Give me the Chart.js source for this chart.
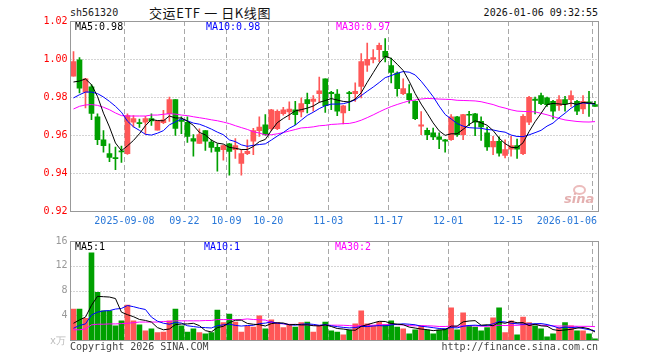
<!DOCTYPE html>
<html>
<head>
<meta charset="utf-8">
<title>sh561320 交运ETF 日K线图</title>
<script src="https://cdn.jsdelivr.net/npm/chart.js"></script>
<style>
    body { margin: 0; background: #fff; width: 660px; height: 360px; position: relative; overflow: hidden; font-family: "DejaVu Sans Mono", monospace; }
    .t { position: absolute; font-size: 10px; line-height: 12px; white-space: pre; }
    #priceBox { position: absolute; left: 0; top: 0; }
    #volBox { position: absolute; left: 0; top: 232px; }
    .eye { position: absolute; left: 573px; top: 185px; width: 9px; height: 6px; border: 2px solid #ecbcbc; border-radius: 50%; }
</style>
</head>
<body>
    <div class="t" style="left:70px; top:7px; color:#222;">sh561320</div>
    <div class="t" style="left:149px; top:5px; font-size:13px; line-height:15px; letter-spacing:0.6px; font-family:'Noto Sans CJK SC', sans-serif; color:#111;">交运ETF 一 日K线图</div>
    <div class="t" style="right:62px; top:7px; color:#111;">2026-01-06 09:32:55</div>

    <canvas id="priceBox" width="660" height="232"></canvas>
    <canvas id="volBox" width="660" height="128"></canvas>

    <div class="t" style="left:75px; top:21px; color:#000;">MA5:0.98</div>
    <div class="t" style="left:206px; top:21px; color:#0000ff;">MA10:0.98</div>
    <div class="t" style="left:336px; top:21px; color:#ff00ff;">MA30:0.97</div>
    <div class="eye"></div>
    <div class="t" style="left:564px; top:191px; font-size:13px; line-height:15px; font-weight:bold; font-style:italic; font-family:'DejaVu Sans', sans-serif; color:#e4b0b0;">sina</div>

    <div class="t" style="left:75px; top:241px; color:#000;">MA5:1</div>
    <div class="t" style="left:204px; top:241px; color:#0000ff;">MA10:1</div>
    <div class="t" style="left:335px; top:241px; color:#ff00ff;">MA30:2</div>
    <div class="t" style="left:50px; top:335px; color:#bbb;">x万</div>
    <div class="t" style="left:70px; top:341px; color:#444;">Copyright 2026 SINA.COM</div>
    <div class="t" style="right:62px; top:341px; color:#444;">http://finance.sina.com.cn</div>

<script>
// trading days shown
const dates = [
    '2025-08-26','2025-08-27','2025-08-28','2025-08-29','2025-09-01','2025-09-02','2025-09-03','2025-09-04','2025-09-05',
    '2025-09-08','2025-09-09','2025-09-10','2025-09-11','2025-09-12','2025-09-15','2025-09-16','2025-09-17','2025-09-18','2025-09-19',
    '2025-09-22','2025-09-23','2025-09-24','2025-09-25','2025-09-26','2025-09-29','2025-09-30',
    '2025-10-09','2025-10-10','2025-10-13','2025-10-14','2025-10-15','2025-10-16','2025-10-17',
    '2025-10-20','2025-10-21','2025-10-22','2025-10-23','2025-10-24','2025-10-27','2025-10-28','2025-10-29','2025-10-30','2025-10-31',
    '2025-11-03','2025-11-04','2025-11-05','2025-11-06','2025-11-07','2025-11-10','2025-11-11','2025-11-12','2025-11-13','2025-11-14',
    '2025-11-17','2025-11-18','2025-11-19','2025-11-20','2025-11-21','2025-11-24','2025-11-25','2025-11-26','2025-11-27','2025-11-28',
    '2025-12-01','2025-12-02','2025-12-03','2025-12-04','2025-12-05','2025-12-08','2025-12-09','2025-12-10','2025-12-11','2025-12-12',
    '2025-12-15','2025-12-16','2025-12-17','2025-12-18','2025-12-19','2025-12-22','2025-12-23','2025-12-24','2025-12-25','2025-12-26',
    '2025-12-29','2025-12-30','2025-12-31','2026-01-05','2026-01-06'
];

const open = [
    0.9909,0.9996,0.9826,0.9854,0.9696,0.9575,0.9502,0.9481,0.9516,0.9502,
    0.9667,0.9665,0.9667,0.9686,0.9625,0.9665,0.9712,0.9786,0.9677,0.9667,
    0.9581,0.9556,0.9623,0.9563,0.9535,0.9523,0.9554,0.9523,0.9451,0.9502,
    0.9567,0.9623,0.9654,0.9633,0.9633,0.9712,0.9721,0.9733,0.9721,0.9786,
    0.9777,0.9818,0.9896,0.9825,0.9816,0.9716,0.9823,0.9818,0.9856,0.9967,
    0.9998,1.0049,1.0040,0.9965,0.9926,0.9818,0.9818,0.9777,0.9646,0.9625,
    0.9611,0.9591,0.9575,0.9575,0.9695,0.9602,0.9709,0.9712,0.9672,0.9611,
    0.9537,0.9567,0.9493,0.9526,0.9544,0.9502,0.9667,0.9789,0.9807,0.9795,
    0.9777,0.9754,0.9786,0.9786,0.9777,0.9737,0.9774,0.9760
];
const close = [
    0.9986,0.9846,0.9896,0.9714,0.9575,0.9544,0.9482,0.9475,0.9511,0.9702,
    0.9686,0.9660,0.9686,0.9674,0.9674,0.9680,0.9786,0.9635,0.9672,0.9593,
    0.9567,0.9602,0.9567,0.9535,0.9514,0.9544,0.9514,0.9544,0.9502,0.9514,
    0.9623,0.9642,0.9602,0.9733,0.9725,0.9733,0.9737,0.9707,0.9765,0.9765,
    0.9789,0.9833,0.9754,0.9818,0.9725,0.9754,0.9818,0.9830,0.9986,0.9998,
    1.0007,1.0072,1.0009,0.9930,0.9844,0.9844,0.9786,0.9686,0.9654,0.9602,
    0.9590,0.9577,0.9568,0.9695,0.9602,0.9707,0.9704,0.9667,0.9642,0.9537,
    0.9567,0.9505,0.9523,0.9544,0.9526,0.9698,0.9798,0.9782,0.9765,0.9760,
    0.9725,0.9786,0.9763,0.9807,0.9725,0.9777,0.9768,0.9751
];
const high = [
    1.0039,1.0007,0.9898,0.9865,0.9712,0.9623,0.9554,0.9537,0.9542,0.9712,
    0.9702,0.9684,0.9698,0.9712,0.9674,0.9730,0.9800,0.9786,0.9696,0.9695,
    0.9602,0.9632,0.9623,0.9575,0.9554,0.9547,0.9556,0.9581,0.9523,0.9575,
    0.9635,0.9696,0.9707,0.9735,0.9733,0.9745,0.9775,0.9777,0.9795,0.9821,
    0.9807,0.9905,0.9896,0.9830,0.9839,0.9756,0.9830,0.9874,1.0028,1.0084,
    1.0049,1.0084,1.0107,1.0005,0.9932,0.9895,0.9865,0.9780,0.9723,0.9637,
    0.9637,0.9611,0.9577,0.9707,0.9698,0.9709,0.9725,0.9714,0.9695,0.9642,
    0.9593,0.9590,0.9575,0.9593,0.9579,0.9707,0.9804,0.9800,0.9821,0.9800,
    0.9782,0.9807,0.9804,0.9833,0.9782,0.9807,0.9830,0.9777
];
const low = [
    0.9909,0.9821,0.9742,0.9681,0.9549,0.9509,0.9460,0.9418,0.9456,0.9498,
    0.9642,0.9640,0.9605,0.9651,0.9625,0.9660,0.9672,0.9598,0.9607,0.9561,
    0.9488,0.9556,0.9519,0.9509,0.9409,0.9467,0.9388,0.9477,0.9388,0.9496,
    0.9496,0.9593,0.9598,0.9623,0.9628,0.9705,0.9681,0.9654,0.9695,0.9716,
    0.9725,0.9772,0.9719,0.9733,0.9702,0.9658,0.9728,0.9777,0.9795,0.9935,
    0.9979,0.9986,0.9984,0.9874,0.9804,0.9812,0.9768,0.9681,0.9602,0.9575,
    0.9575,0.9528,0.9509,0.9572,0.9593,0.9575,0.9649,0.9596,0.9572,0.9519,
    0.9496,0.9488,0.9479,0.9488,0.9477,0.9496,0.9654,0.9711,0.9760,0.9751,
    0.9684,0.9730,0.9725,0.9751,0.9707,0.9712,0.9698,0.9751
];
// volume, 万
const volume = [
    5.0,5.0,3.5,14.1,7.7,4.7,4.7,2.3,3.1,5.65,
    3.1,2.45,1.5,1.8,1.2,1.3,3.1,5.0,2.3,1.3,
    1.8,1.2,1.0,1.2,4.85,2.8,4.2,2.9,1.3,2.2,
    2.1,3.9,1.8,3.25,2.8,2.0,2.45,2.1,2.8,2.9,
    1.3,2.3,2.9,1.5,1.3,0.85,1.6,2.6,4.7,2.6,
    2.3,2.9,2.45,3.1,2.1,1.8,1.0,1.65,2.3,1.6,
    1.0,1.6,1.8,5.2,1.65,4.4,2.3,2.1,1.5,2.0,
    3.6,5.2,1.2,3.1,0.85,3.7,2.8,2.3,1.8,0.5,
    1.0,2.0,2.8,2.3,1.5,1.5,1.0,0.2
];

// MA values before a full window exists (they use older days)
const ma5Head = [0.9879, 0.9884, 0.9895, 0.9865];
const ma10Head = [0.9795, 0.9812, 0.9826, 0.9826, 0.9818, 0.9800, 0.9777, 0.9751, 0.9720];
const ma30Head = [
    0.9737,0.9751,0.9758,0.9760,0.9756,0.9746,0.9733,0.9716,0.9702,0.9700,
    0.9700,0.9700,0.9700,0.9705,0.9705,0.9709,0.9712,0.9710,0.9705,0.9702,
    0.9696,0.9691,0.9686,0.9680,0.9675,0.9668,0.9660,0.9649,0.9639
];
const volMa5Head = [2.7, 3.25, 3.7, 5.6];
const volMa10Head = [1.9, 2.35, 2.6, 4.05, 4.5, 4.7, 4.75, 5.0, 5.1];
const volMa30Head = [
    1.65,1.65,1.8,2.45,2.55,2.55,2.6,2.6,2.65,2.7,
    2.8,2.9,2.9,2.9,2.9,3.0,3.0,3.1,3.1,3.1,
    3.1,3.1,3.15,3.15,3.3,3.3,3.3,3.3,3.3
];

const tickDates = ['2025-09-08','2025-09-22','2025-10-09','2025-10-20','2025-11-03','2025-11-17','2025-12-01','2025-12-15','2026-01-06'];
const tickText = ['2025-09-08','09-22','10-09','10-20','11-03','11-17','12-01','12-15','2026-01-06'];
const priceTicks = [0.94, 0.96, 0.98, 1.00];
const volTicks = [4, 8, 12];

const RED = '#ff5757';
const GREEN = '#00a000';

function movingAvg(vals, n, head) {
    return vals.map((v, i) => {
        if (i < n - 1) return head[i];
        let s = 0;
        for (let k = i - n + 1; k <= i; k++) s += vals[k];
        return s / n;
    });
}

const colors = dates.map((d, i) => close[i] >= open[i] ? RED : GREEN);

// dotted / dashed grid, frame and date labels
const sinaGrid = {
    id: 'sinaGrid',
    beforeDatasetsDraw(chart, args, opts) {
        const { ctx, chartArea: a, scales: { x, y } } = chart;
        const slot = x.getPixelForValue(1) - x.getPixelForValue(0);
        ctx.save();
        ctx.strokeStyle = '#a8a8a8';
        ctx.lineWidth = 1;
        ctx.setLineDash([1, 2]);
        opts.yLines.forEach(v => {
            const py = Math.round(y.getPixelForValue(v)) + 0.5;
            ctx.beginPath(); ctx.moveTo(a.left, py); ctx.lineTo(a.right, py); ctx.stroke();
        });
        ctx.setLineDash([5, 3]);
        tickDates.forEach(d => {
            const px = Math.round(x.getPixelForValue(dates.indexOf(d)) - slot / 2) + 0.5;
            ctx.beginPath(); ctx.moveTo(px, a.top); ctx.lineTo(px, a.bottom); ctx.stroke();
        });
        ctx.restore();
    },
    afterDraw(chart, args, opts) {
        const { ctx, chartArea: a, scales: { x } } = chart;
        ctx.save();
        ctx.strokeStyle = '#999';
        ctx.lineWidth = 1;
        ctx.setLineDash([]);
        ctx.strokeRect(Math.floor(a.left) + 0.5, Math.floor(a.top) + 0.5, Math.round(a.right - a.left), Math.round(a.bottom - a.top));
        if (opts.dateLabels) {
            const slot = x.getPixelForValue(1) - x.getPixelForValue(0);
            ctx.font = '10px "DejaVu Sans Mono"';
            ctx.fillStyle = '#2a78d8';
            ctx.textBaseline = 'middle';
            tickDates.forEach((d, k) => {
                const px = x.getPixelForValue(dates.indexOf(d)) - slot / 2;
                const last = k === tickDates.length - 1;
                ctx.textAlign = last ? 'right' : 'center';
                ctx.fillText(tickText[k], last ? a.right - 1 : px, a.bottom + 10);
            });
        }
        ctx.restore();
    }
};

function maLine(label, data, color) {
    return { type: 'line', label: label, data: data, borderColor: color, borderWidth: 1, pointRadius: 0, tension: 0, order: 0 };
}

new Chart(document.getElementById('priceBox'), {
    type: 'bar',
    data: {
        labels: dates,
        datasets: [
            maLine('MA5', movingAvg(close, 5, ma5Head), '#000000'),
            maLine('MA10', movingAvg(close, 10, ma10Head), '#0000ff'),
            maLine('MA30', movingAvg(close, 30, ma30Head), '#ff00ff'),
            {
                label: 'body',
                data: dates.map((d, i) => [open[i], close[i]]),
                backgroundColor: colors,
                barThickness: 5,
                minBarLength: 1,
                grouped: false,
                order: 1
            },
            {
                label: 'wick',
                data: dates.map((d, i) => [low[i], high[i]]),
                backgroundColor: colors,
                barThickness: 1,
                grouped: false,
                order: 2
            }
        ]
    },
    options: {
        responsive: false,
        animation: false,
        layout: { padding: { top: 21, right: 62, bottom: 21, left: 0 } },
        plugins: {
            legend: { display: false },
            tooltip: { enabled: false },
            sinaGrid: { yLines: priceTicks, dateLabels: true }
        },
        scales: {
            x: { display: false, offset: true },
            y: {
                min: 0.92,
                max: 1.02,
                afterFit(s) { s.width = 70.5; },
                grid: { display: false, drawTicks: false },
                border: { display: false },
                ticks: {
                    stepSize: 0.02,
                    color: '#ff0000',
                    padding: 3,
                    font: { family: 'DejaVu Sans Mono', size: 10 },
                    callback: v => v.toFixed(2)
                }
            }
        }
    },
    plugins: [sinaGrid]
});

new Chart(document.getElementById('volBox'), {
    type: 'bar',
    data: {
        labels: dates,
        datasets: [
            maLine('MA5', movingAvg(volume, 5, volMa5Head), '#000000'),
            maLine('MA10', movingAvg(volume, 10, volMa10Head), '#0000ff'),
            maLine('MA30', movingAvg(volume, 30, volMa30Head), '#ff00ff'),
            {
                label: 'volume',
                data: volume,
                backgroundColor: colors,
                barThickness: 5,
                order: 1
            }
        ]
    },
    options: {
        responsive: false,
        animation: false,
        layout: { padding: { top: 8, right: 62, bottom: 20, left: 0 } },
        plugins: {
            legend: { display: false },
            tooltip: { enabled: false },
            sinaGrid: { yLines: volTicks, dateLabels: false }
        },
        scales: {
            x: { display: false, offset: true },
            y: {
                min: 0,
                max: 16,
                afterFit(s) { s.width = 70.5; },
                grid: { display: false, drawTicks: false },
                border: { display: false },
                ticks: {
                    stepSize: 4,
                    color: '#999',
                    padding: 3,
                    font: { family: 'DejaVu Sans Mono', size: 10 },
                    callback: v => v === 0 ? '' : v
                }
            }
        }
    },
    plugins: [sinaGrid]
});
</script>
</body>
</html>
